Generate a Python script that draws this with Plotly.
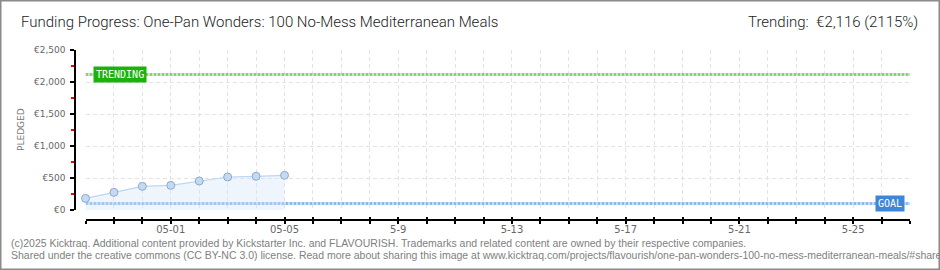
import plotly.graph_objects as go
import pandas as pd

# ---- data ----
dates = ["2025-04-28", "2025-04-29", "2025-04-30", "2025-05-01",
         "2025-05-02", "2025-05-03", "2025-05-04", "2025-05-05"]
pledged = [182, 276, 370, 385, 453, 516, 526, 542]
goal = 100
trending = 2116
x_start, x_end = "2025-04-28", "2025-05-27"
tick_dates = [d.strftime("%Y-%m-%d") for d in pd.date_range(x_start, x_end)]
label_map = {"2025-05-01": "05-01", "2025-05-05": "05-05", "2025-05-09": "5-9",
             "2025-05-13": "5-13", "2025-05-17": "5-17", "2025-05-21": "5-21",
             "2025-05-25": "5-25"}
tick_text = [label_map.get(d, "") for d in tick_dates]
y_ticks = [0, 500, 1000, 1500, 2000, 2500]
y_tick_text = ["€0", "€500", "€1,000", "€1,500", "€2,000", "€2,500"]
y_minor_ticks = [250, 750, 1250, 1750, 2250]

title_text = "Funding Progress: One-Pan Wonders: 100 No-Mess Mediterranean Meals"
trend_text = "Trending:  €2,116 (2115%)"
footer1 = ("(c)2025 Kicktraq. Additional content provided by Kickstarter Inc. and FLAVOURISH. "
           "Trademarks and related content are owned by their respective companies.")
footer2 = ("Shared under the creative commons (CC BY-NC 3.0) license. Read more about sharing this image at "
           "www.kicktraq.com/projects/flavourish/one-pan-wonders-100-no-mess-mediterranean-meals/#share")

# ---- geometry helpers (pixel -> paper) ----
L, R, T, B = 75, 30, 50, 50
W, H = 940, 270
PW, PH = W - L - R, H - T - B
def px(x): return (x - L) / PW
def py(y): return (H - B - y) / PH

fig = go.Figure()

# goal & trending lines
fig.add_trace(go.Scatter(x=[x_start, x_end], y=[goal, goal], mode="lines",
                         line=dict(color="#8cb9e6", width=3, dash="3px,1px"),
                         hoverinfo="skip", showlegend=False, cliponaxis=False))
fig.add_trace(go.Scatter(x=[x_start, x_end], y=[trending, trending], mode="lines",
                         line=dict(color="#86d278", width=3, dash="3px,1px"),
                         hoverinfo="skip", showlegend=False, cliponaxis=False))

# pledged series
fig.add_trace(go.Scatter(x=dates, y=pledged, mode="lines+markers", fill="tozeroy",
                         fillcolor="rgba(205,225,246,0.35)",
                         line=dict(color="#bcd6f2", width=1.2),
                         marker=dict(size=8, color="#c3daf5",
                                     line=dict(color="#8fa9c9", width=1)),
                         showlegend=False, cliponaxis=False))

# dummy trace on overlaying x axis for inside ticks
fig.add_trace(go.Scatter(x=[x_start], y=[0], xaxis="x2", mode="markers",
                         marker=dict(opacity=0), hoverinfo="skip", showlegend=False))

grid = dict(gridcolor="#e3e3e3", griddash="4px,3px", gridwidth=1)
fig.update_layout(
    width=W, height=H,
    margin=dict(l=L, r=R, t=T, b=B),
    paper_bgcolor="white", plot_bgcolor="white",
    xaxis=dict(type="date", range=[x_start, x_end], domain=[px(85.5), 1],
               anchor="free", position=0,
               tickmode="array", tickvals=tick_dates, ticktext=tick_text,
               ticks="outside", ticklen=3, tickcolor="black", tickwidth=1.5,
               ticklabelstandoff=-3,
               showline=True, linecolor="black", linewidth=1.5,
               tickfont=dict(family="DejaVu Sans", size=10, color="#666"),
               showgrid=True, zeroline=False, **grid),
    xaxis2=dict(type="date", overlaying="x", matches="x", anchor="free", position=0,
                tickmode="array", tickvals=tick_dates, ticktext=[""] * len(tick_dates),
                ticks="inside", ticklen=3, tickcolor="black", tickwidth=1.5,
                showgrid=False, showline=False, zeroline=False, showticklabels=False),
    yaxis=dict(range=[0, 2500], domain=[py(210), 1], anchor="free", position=0,
               tickmode="array", tickvals=y_ticks, ticktext=y_tick_text,
               ticks="outside", ticklen=4, tickcolor="black", tickwidth=1.5,
               ticklabelstandoff=3,
               minor=dict(ticks="outside", ticklen=3, tickcolor="red",
                          tickmode="array", tickvals=y_minor_ticks, showgrid=False),
               showline=True, linecolor="black", linewidth=1.5,
               tickfont=dict(family="DejaVu Sans", size=9, color="#666"),
               showgrid=True, zeroline=False, **grid),
    shapes=[dict(type="rect", xref="paper", yref="paper",
                 x0=px(0.5), x1=px(939.5), y0=py(0.5), y1=py(269.5),
                 line=dict(color="#8a8a8a", width=2), layer="above")],
    annotations=[
        dict(text=title_text, xref="paper", yref="paper", x=px(19), y=py(22),
             xanchor="left", yanchor="middle", showarrow=False,
             font=dict(family="Roboto", size=15, color="#222", weight=300)),
        dict(text=trend_text, xref="paper", yref="paper", x=px(920), y=py(22),
             xanchor="right", yanchor="middle", showarrow=False,
             font=dict(family="Roboto", size=15, color="#222", weight=300)),
        dict(text="PLEDGED", xref="paper", yref="paper", x=px(21), y=py(130),
             xanchor="center", yanchor="middle", showarrow=False, textangle=-90,
             font=dict(family="DejaVu Sans", size=9, color="#777")),
        dict(text="TRENDING", xref="x", yref="y", x="2025-04-28", y=trending,
             xshift=7, xanchor="left", yanchor="middle", showarrow=False,
             bgcolor="#19b30b", borderpad=2,
             font=dict(family="DejaVu Sans Mono", size=10, color="white")),
        dict(text="GOAL", xref="x", yref="y", x="2025-05-27", y=goal,
             xshift=-5, xanchor="right", yanchor="middle", showarrow=False,
             bgcolor="#3d87d6", borderpad=2,
             font=dict(family="DejaVu Sans Mono", size=10, color="white")),
        dict(text=footer1, xref="paper", yref="paper", x=px(9), y=py(243),
             xanchor="left", yanchor="middle", showarrow=False,
             font=dict(family="Liberation Sans", size=10.5, color="#808080")),
        dict(text=footer2, xref="paper", yref="paper", x=px(9), y=py(255),
             xanchor="left", yanchor="middle", showarrow=False,
             font=dict(family="Liberation Sans", size=10.5, color="#808080")),
    ],
)

fig.write_html("out.html")
